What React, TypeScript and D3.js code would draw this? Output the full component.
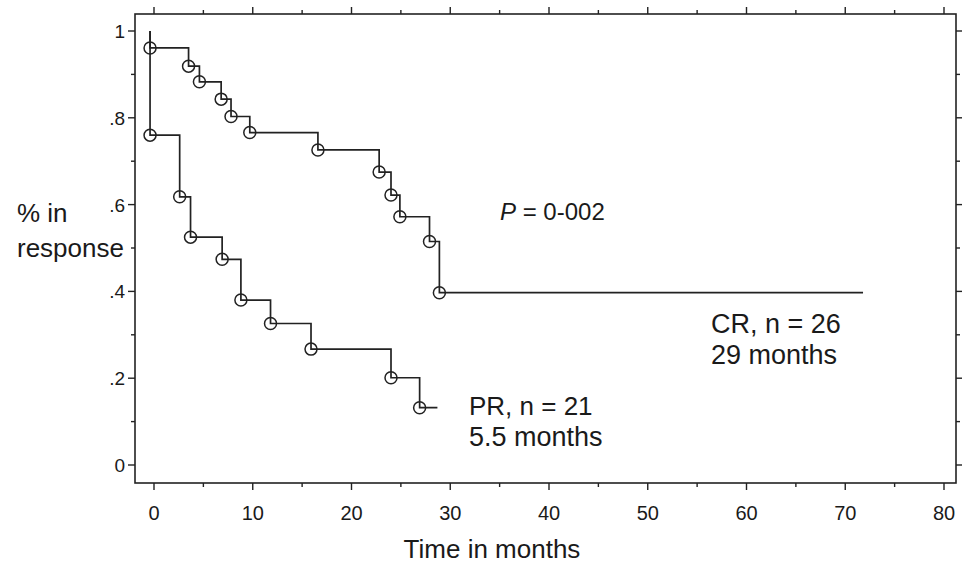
import { useEffect, useRef } from 'react';
import * as d3 from 'd3';

// Kaplan-Meier steps (time in months, fraction still in response)
const crTimes = [-0.4, 3.5, 4.6, 6.8, 7.8, 9.7, 16.6, 22.8, 24.0, 24.9, 27.9, 28.9];
const crSurv = [0.961, 0.919, 0.883, 0.843, 0.803, 0.766, 0.726, 0.675, 0.622, 0.572, 0.515, 0.397];
const crEnd = 71.8;

const prTimes = [-0.4, 2.6, 3.7, 6.9, 8.8, 11.8, 15.9, 24.0, 26.9];
const prSurv = [0.76, 0.618, 0.525, 0.474, 0.38, 0.326, 0.267, 0.201, 0.132];
const prEnd = 28.7;

const startTime = -0.4;

const xMajor = [0, 10, 20, 30, 40, 50, 60, 70, 80];
const xMinor = [5, 15, 25, 35, 45, 55, 65, 75];
const yMajor = [0, 0.2, 0.4, 0.6, 0.8, 1];
const yMinor = [0.1, 0.3, 0.5, 0.7, 0.9];
const yLabels = ['0', '.2', '.4', '.6', '.8', '1'];

const W = 962;
const H = 566;
const FONT = '"Liberation Sans", Arial, Helvetica, sans-serif';
const INK = '#222';

const App = () => {
  const ref = useRef<SVGSVGElement>(null);

  useEffect(() => {
    const svg = d3.select(ref.current);
    svg.selectAll('*').remove();

    const frame = { left: 135, right: 956, top: 14, bottom: 483 };
    const x = d3.scaleLinear().domain([0, 80]).range([154, 944]);
    const y = d3.scaleLinear().domain([0, 1]).range([465, 31]);

    svg.append('rect').attr('width', W).attr('height', H).attr('fill', '#fff');

    // frame
    svg
      .append('rect')
      .attr('x', frame.left)
      .attr('y', frame.top)
      .attr('width', frame.right - frame.left)
      .attr('height', frame.bottom - frame.top)
      .attr('fill', 'none')
      .attr('stroke', INK)
      .attr('stroke-width', 1.6);

    const ticks = svg.append('g').attr('stroke', INK).attr('stroke-width', 1.4);
    const xTick = (vals: number[], len: number) => {
      vals.forEach((v) => {
        ticks.append('line').attr('x1', x(v)).attr('x2', x(v)).attr('y1', frame.bottom).attr('y2', frame.bottom + len);
        ticks.append('line').attr('x1', x(v)).attr('x2', x(v)).attr('y1', frame.top).attr('y2', frame.top - len);
      });
    };
    const yTick = (vals: number[], len: number) => {
      vals.forEach((v) => {
        ticks.append('line').attr('y1', y(v)).attr('y2', y(v)).attr('x1', frame.left).attr('x2', frame.left - len);
        ticks.append('line').attr('y1', y(v)).attr('y2', y(v)).attr('x1', frame.right).attr('x2', frame.right + len);
      });
    };
    xTick(xMajor, 7);
    xTick(xMinor, 4);
    yTick(yMajor, 7);
    yTick(yMinor, 4);

    // tick labels
    svg
      .append('g')
      .selectAll('text')
      .data(xMajor)
      .enter()
      .append('text')
      .attr('x', (d) => x(d))
      .attr('y', 520)
      .attr('text-anchor', 'middle')
      .attr('font-size', 20)
      .text((d) => String(d));

    svg
      .append('g')
      .selectAll('text')
      .data(yMajor)
      .enter()
      .append('text')
      .attr('x', 125)
      .attr('y', (d) => y(d) + 7)
      .attr('text-anchor', 'end')
      .attr('font-size', 19)
      .text((_, i) => yLabels[i]);

    // step curves
    const line = d3
      .line<[number, number]>()
      .x((d) => x(d[0]))
      .y((d) => y(d[1]))
      .curve(d3.curveStepAfter);

    const drawCurve = (times: number[], surv: number[], end: number) => {
      const pts: [number, number][] = [[startTime, 1]];
      times.forEach((t, i) => pts.push([t, surv[i]]));
      pts.push([end, surv[surv.length - 1]]);
      svg
        .append('path')
        .attr('d', line(pts))
        .attr('fill', 'none')
        .attr('stroke', INK)
        .attr('stroke-width', 1.7);
      svg
        .append('g')
        .selectAll('circle')
        .data(times)
        .enter()
        .append('circle')
        .attr('cx', (d) => x(d))
        .attr('cy', (_, i) => y(surv[i]))
        .attr('r', 6)
        .attr('fill', 'none')
        .attr('stroke', INK)
        .attr('stroke-width', 1.5);
    };
    drawCurve(prTimes, prSurv, prEnd);
    drawCurve(crTimes, crSurv, crEnd);

    // annotations
    const addText = (tx: number, ty: number, s: string, size = 26, anchor = 'start') =>
      svg
        .append('text')
        .attr('x', tx)
        .attr('y', ty)
        .attr('font-size', size)
        .attr('text-anchor', anchor)
        .text(s);

    const p = svg.append('text').attr('x', 500).attr('y', 220).attr('font-size', 24);
    p.append('tspan').attr('font-style', 'italic').text('P');
    p.append('tspan').text(' = 0-002');

    addText(711, 333, 'CR, n = 26', 27);
    addText(711, 364, '29 months', 27);
    addText(469, 415, 'PR, n = 21', 26);
    addText(469, 446, '5.5 months', 27);

    addText(17, 222, '% in', 26);
    addText(17, 257, 'response', 26);
    addText(492, 558, 'Time in months', 26, 'middle');
  }, []);

  return (
    <svg
      ref={ref}
      width={W}
      height={H}
      fontFamily={FONT}
      fill="#1a1a1a"
      style={{ position: 'absolute', left: 0, top: 0 }}
    ></svg>
  );
};

export default App;
